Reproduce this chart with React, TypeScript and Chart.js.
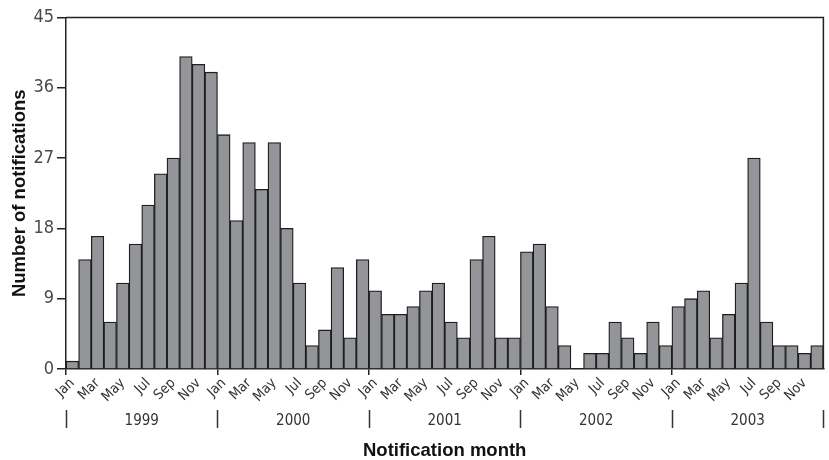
import React, { useEffect, useRef } from "react";
import { Chart, registerables } from "chart.js";

Chart.register(...registerables);

const monthNames = ["Jan", "Feb", "Mar", "Apr", "May", "Jun", "Jul", "Aug", "Sep", "Oct", "Nov", "Dec"];
const years = ["1999", "2000", "2001", "2002", "2003"];

const counts1999 = [1, 14, 17, 6, 11, 16, 21, 25, 27, 40, 39, 38];
const counts2000 = [30, 19, 29, 23, 29, 18, 11, 3, 5, 13, 4, 14];
const counts2001 = [10, 7, 7, 8, 10, 11, 6, 4, 14, 17, 4, 4];
const counts2002 = [15, 16, 8, 3, 0, 2, 2, 6, 4, 2, 6, 3];
const counts2003 = [8, 9, 10, 4, 7, 11, 27, 6, 3, 3, 2, 3];

const yTicks = [0, 9, 18, 27, 36, 45];

const NARROW = "'Liberation Sans Narrow', 'DejaVu Sans Condensed', 'Arial Narrow', sans-serif";
const BOLD = "'Liberation Sans', Arial, sans-serif";

export default function App() {
  const ref = useRef<HTMLCanvasElement | null>(null);

  useEffect(() => {
    const canvas = ref.current;
    if (!canvas) return;

    const labels: string[] = [];
    years.forEach(() => monthNames.forEach((m) => labels.push(m)));
    const values = [...counts1999, ...counts2000, ...counts2001, ...counts2002, ...counts2003];

    const framePlugin = {
      id: "frame",
      afterDatasetsDraw(chart: any) {
        const { ctx, chartArea } = chart;
        ctx.save();
        ctx.strokeStyle = "#222";
        ctx.lineWidth = 1.5;
        ctx.beginPath();
        ctx.moveTo(chartArea.left, chartArea.top);
        ctx.lineTo(chartArea.right, chartArea.top);
        ctx.lineTo(chartArea.right, chartArea.bottom);
        ctx.stroke();
        ctx.restore();
      },
      afterDraw(chart: any) {
        const { ctx, chartArea } = chart;
        const xs = chart.scales.x;
        const n = labels.length;
        const w = xs.getPixelForValue(1) - xs.getPixelForValue(0);
        ctx.save();
        ctx.strokeStyle = "#333";
        ctx.lineWidth = 1.5;
        const y0 = chartArea.bottom + 41;
        const y1 = chartArea.bottom + 59;
        for (let i = 0; i <= years.length; i++) {
          const idx = Math.min(i * 12, n - 1);
          let x = xs.getPixelForValue(idx) - w / 2;
          if (i === years.length) x = xs.getPixelForValue(n - 1) + w / 2;
          ctx.beginPath();
          ctx.moveTo(Math.round(x) + 0.5, y0);
          ctx.lineTo(Math.round(x) + 0.5, y1);
          ctx.stroke();
        }
        ctx.fillStyle = "#333";
        ctx.font = `15px ${NARROW}`;
        ctx.textAlign = "center";
        ctx.textBaseline = "middle";
        years.forEach((yr, i) => {
          const a = xs.getPixelForValue(i * 12) - w / 2;
          const b = xs.getPixelForValue(i * 12 + 11) + w / 2;
          ctx.fillText(yr, (a + b) / 2, chartArea.bottom + 52);
        });
        ctx.restore();
      },
    };

    const chart = new Chart(canvas, {
      type: "bar",
      data: {
        labels,
        datasets: [
          {
            data: values,
            backgroundColor: "#939598",
            borderColor: "#1e1e1e",
            borderWidth: 1.3,
            barPercentage: 1,
            categoryPercentage: 1,
          },
        ],
      },
      options: {
        animation: false,
        responsive: true,
        maintainAspectRatio: false,
        layout: { padding: { top: 17.5, right: 5, left: 0, bottom: 0 } },
        plugins: { legend: { display: false }, tooltip: { enabled: false } },
        scales: {
          x: {
            offset: true,
            grid: {
              offset: true,
              drawOnChartArea: false,
              drawTicks: true,
              tickLength: 6,
              lineWidth: 1.5,
              color: (ctx: any) => (ctx.index % 12 === 0 ? "#222" : "rgba(0,0,0,0)"),
            },
            border: { display: true, color: "#222", width: 1.5 },
            ticks: {
              autoSkip: false,
              maxRotation: 45,
              minRotation: 45,
              padding: 0,
              color: "#333",
              font: { family: NARROW, size: 14 },
              callback: (_v: any, i: number) => (i % 2 === 0 ? labels[i] : ""),
            },
            title: {
              display: true,
              text: "Notification month",
              color: "#111",
              font: { family: BOLD, size: 18.5, weight: "bold", lineHeight: 1 },
              padding: { top: 0, bottom: 0 },
            },
            afterFit: (scale: any) => {
              scale.height = 91;
            },
          },
          y: {
            min: 0,
            max: 45,
            afterBuildTicks: (scale: any) => {
              scale.ticks = yTicks.map((v) => ({ value: v }));
            },
            grid: {
              drawOnChartArea: false,
              drawTicks: true,
              tickLength: 9,
              lineWidth: 1.5,
              color: "#222",
            },
            border: { display: true, color: "#222", width: 1.5 },
            ticks: {
              padding: 3,
              color: "#4a4a4a",
              font: { family: NARROW, size: 18 },
            },
            title: {
              display: true,
              text: "Number of notifications",
              color: "#111",
              font: { family: BOLD, size: 18.5, weight: "bold", lineHeight: 1 },
              padding: { top: 10.5, bottom: 0 },
            },
            afterFit: (scale: any) => {
              scale.width = 66;
            },
          },
        },
      },
      plugins: [framePlugin],
    });

    return () => chart.destroy();
  }, []);

  return (
    <div style={{ position: "fixed", left: 0, top: 0, width: 829, height: 460, background: "#fff" }}>
      <canvas ref={ref} />
    </div>
  );
}
